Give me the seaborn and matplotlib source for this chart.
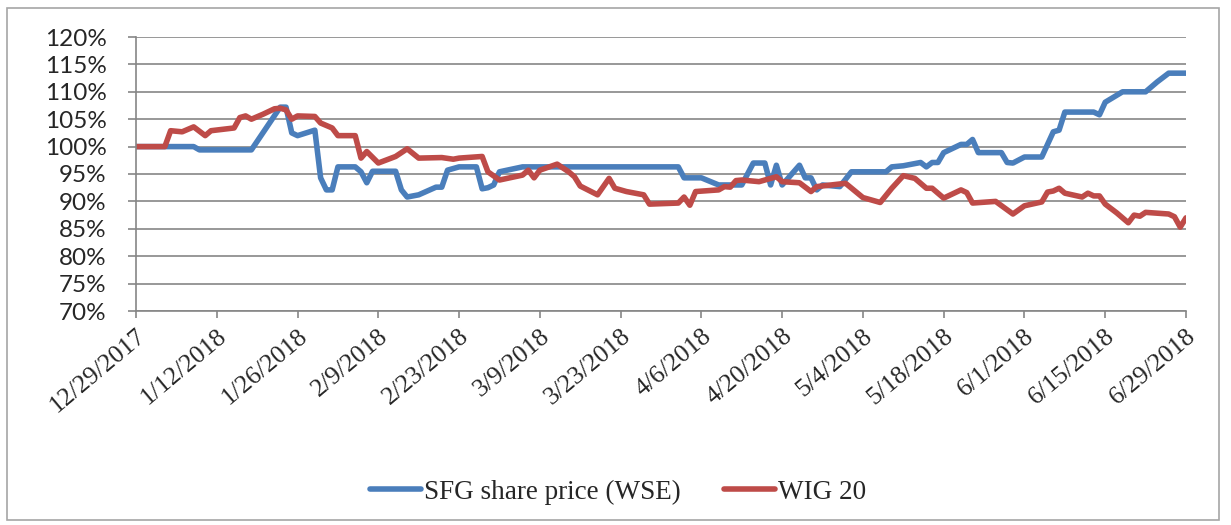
import pandas as pd
import matplotlib
matplotlib.use("Agg")
import matplotlib.pyplot as plt
import matplotlib.ticker as mticker
from matplotlib.patches import Rectangle
import seaborn as sns

start = pd.Timestamp("2017-12-29")

# day offsets from 12/29/2017 and relative values (%)
sfg_days = [0, 6, 10, 11, 20, 25, 26, 27, 28, 31, 32, 33, 34, 35, 38, 39, 40, 41, 45, 46,
            47, 49, 52, 53, 54, 56, 59, 60, 61, 62, 63, 67, 94, 95, 98, 101, 105, 107, 109, 110,
            111, 112, 115, 116, 117, 118, 119, 122, 124, 130, 131, 133, 136, 137, 138, 139, 140, 143, 144, 145,
            146, 150, 151, 152, 154, 157, 159, 160, 161, 166, 167, 168, 171, 175, 177, 179, 182]
sfg_vals = [100, 100, 100, 99.4, 99.4, 107.2, 107.2, 102.5, 102.0, 103.0, 94.3, 92.1, 92.1, 96.3, 96.3, 95.4, 93.4, 95.5, 95.5, 92.1,
            90.8, 91.2, 92.6, 92.6, 95.7, 96.3, 96.3, 92.3, 92.5, 93.0, 95.4, 96.3, 96.3, 94.3, 94.3, 93.0, 93.0, 97.0, 97.0, 93.0,
            96.6, 93.0, 96.6, 94.3, 94.3, 92.1, 93.0, 92.7, 95.4, 95.4, 96.3, 96.5, 97.1, 96.3, 97.1, 97.1, 98.9, 100.4, 100.4, 101.3,
            98.9, 98.9, 97.1, 97.0, 98.1, 98.1, 102.7, 103.0, 106.3, 106.3, 105.8, 108.1, 110.0, 110.0, 111.8, 113.4, 113.4]

wig_days = [0, 5, 6, 8, 10, 12, 13, 17, 18, 19, 20, 22, 24, 25, 26, 27, 28, 31, 32, 34,
            35, 38, 39, 40, 42, 45, 47, 49, 53, 55, 56, 60, 61, 63, 67, 68, 69, 70, 73, 75,
            76, 77, 80, 82, 83, 85, 88, 89, 94, 95, 96, 97, 101, 102, 103, 104, 105, 108, 111, 112,
            115, 117, 118, 123, 126, 129, 131, 133, 135, 137, 138, 140, 143, 144, 145, 149, 152, 154, 157, 158,
            159, 160, 161, 164, 165, 166, 167, 168, 170, 172, 173, 174, 175, 179, 180, 181, 182]
wig_vals = [100, 100, 102.9, 102.7, 103.6, 102.0, 102.9, 103.4, 105.3, 105.6, 105.0, 105.9, 106.9, 107.0, 106.7, 105.0, 105.6, 105.5, 104.3, 103.4,
            102.0, 102.0, 97.9, 99.1, 97.0, 98.2, 99.6, 97.9, 98.0, 97.7, 97.9, 98.2, 95.4, 93.9, 94.8, 95.7, 94.3, 95.7, 96.8, 95.4,
            94.5, 92.8, 91.2, 94.2, 92.4, 91.8, 91.2, 89.5, 89.7, 90.8, 89.3, 91.8, 92.1, 92.7, 92.6, 93.8, 93.9, 93.6, 94.5, 93.6,
            93.4, 91.8, 92.7, 93.3, 90.7, 89.8, 92.4, 94.7, 94.2, 92.4, 92.4, 90.6, 92.1, 91.6, 89.7, 90.0, 87.7, 89.2, 89.9, 91.7,
            91.9, 92.4, 91.5, 90.8, 91.5, 91.0, 91.0, 89.5, 87.9, 86.1, 87.5, 87.3, 88.0, 87.7, 87.2, 85.3, 87.0]

series_names = ["SFG share price (WSE)", "WIG 20"]
colors = ["#4A7EBB", "#BE4B48"]

df = pd.concat([
    pd.DataFrame({"date": start + pd.to_timedelta(sfg_days, unit="D"), "value": sfg_vals, "series": series_names[0]}),
    pd.DataFrame({"date": start + pd.to_timedelta(wig_days, unit="D"), "value": wig_vals, "series": series_names[1]}),
])

sns.set_style("white")
plt.rcParams["font.family"] = ["Liberation Serif", "DejaVu Serif"]

fig = plt.figure(figsize=(12.31, 5.25), dpi=100)
ax = fig.add_axes([136 / 1231, 1 - 311 / 525, (1186 - 136) / 1231, (311 - 37) / 525])

sns.lineplot(data=df, x="date", y="value", hue="series", palette=colors,
             linewidth=4, ax=ax, legend=False, estimator=None, sort=False)

ax.set_ylim(70, 120)
ax.set_yticks(range(70, 121, 5))
ax.yaxis.set_major_formatter(mticker.FuncFormatter(lambda v, p: f"{v:.0f}%"))
ax.set_xlim(start, start + pd.Timedelta(days=182))
ticks = pd.date_range(start, periods=14, freq="14D")
ax.set_xticks(ticks)
ax.set_xticklabels([f"{d.month}/{d.day}/{d.year}" for d in ticks], rotation=40,
                   ha="right", rotation_mode="anchor", fontsize=18.5)
for lab in ax.get_yticklabels():
    lab.set_fontfamily("Lato")
    lab.set_fontsize(17.5)

ax.grid(axis="y", color="#868686", linewidth=1.2)
ax.set_axisbelow(True)
for side in ["top", "right"]:
    ax.spines[side].set_visible(False)
for side in ["left", "bottom"]:
    ax.spines[side].set_color("#868686")
    ax.spines[side].set_linewidth(1.2)
ax.tick_params(axis="y", direction="out", length=6, width=1.2, color="#868686", pad=15, left=True)
ax.tick_params(axis="x", direction="out", length=5, width=1.2, color="#868686", pad=5, bottom=True)
ax.set_xlabel("")
ax.set_ylabel("")

handles = [plt.Line2D([], [], color=c, linewidth=4, solid_capstyle="round") for c in colors]
fig.legend(handles, series_names, loc="center", bbox_to_anchor=(0.502, 1 - 492 / 525), ncol=2,
           frameon=False, fontsize=19.5, handlelength=1.9, handletextpad=0.1, columnspacing=1.6)

fig.patches.append(Rectangle((7 / 1231, 1 - 520 / 525), (1219 - 7) / 1231, (520 - 8) / 525,
                             transform=fig.transFigure, fill=False, edgecolor="#A6A6A6", linewidth=1.2))

fig.savefig("out.png", dpi=100)
